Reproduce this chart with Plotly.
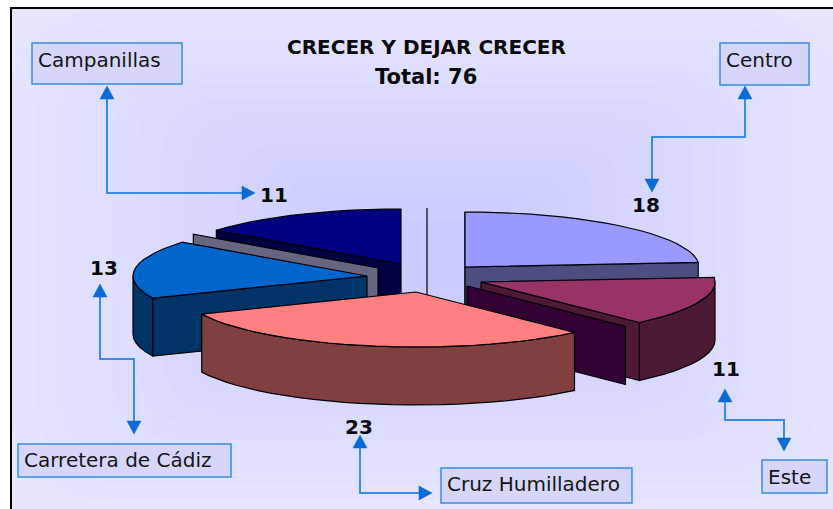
import math
import plotly.graph_objects as go

# ---- data ----
categories = ["Centro", "Este", "", "Cruz Humilladero", "Carretera de Cádiz", "", "Campanillas", ""]
values = [18, 11, 0, 23, 13, 0, 11, 0]
title_lines = ["CRECER Y DEJAR CRECER", "Total: 76"]

# ---- style ----
top_colors = ["#9999FF", "#993366", "#660066", "#FF8080", "#0066CC", "#CCCCFF", "#000080", "#CCCCFF"]
wall_colors = ["#4D4D80", "#4D1A33", "#330033", "#804040", "#003366", "#666680", "#000040", "#666680"]
apex_x = [465, 481, 467, 416, 367, 378, 401, 427]
apex_y = [267, 282, 286, 292, 276, 268, 264, 263]
draw_order = [6, 7, 0, 5, 4, 1, 2, 3]
RX, RY, DEPTH = 234, 55, 58
EDGE = "#000008"
ARROW = "#0A6AD6"
LINE = "#3A8CE4"

label_pos = [(646, 207), (726, 371), None, (359, 429), (104, 270), None, (274, 197), None]
# x0, y0, x1, y1, text x, text y
box_pos = {
    "Centro": (720, 43, 809, 85, 725, 60),
    "Este": (762, 460, 827, 493, 767, 477),
    "Cruz Humilladero": (441, 468, 632, 503, 446, 484),
    "Carretera de Cádiz": (18, 444, 231, 477, 23, 460),
    "Campanillas": (32, 43, 182, 84, 37, 60),
}
connectors = [
    [(107, 97), (107, 193), (242, 193)],
    [(745, 97), (745, 137), (652, 137), (652, 179)],
    [(100, 295), (100, 359), (134, 359), (134, 421)],
    [(360, 447), (360, 493), (419, 493)],
    [(725, 401), (725, 420), (784, 420), (784, 438)],
]
# tip x, tip y, direction x, direction y
arrow_tips = [
    (107, 86, 0, -1), (255, 193, 1, 0),
    (745, 86, 0, -1), (652, 192, 0, 1),
    (100, 284, 0, -1), (134, 434, 0, 1),
    (360, 435, 0, -1), (432, 493, 1, 0),
    (725, 389, 0, -1), (784, 451, 0, 1),
]
ARROW_LEN, ARROW_HALF = 13, 7


def pt(cx, cy, a, z=0):
    return cx + RX * math.sin(a), cy - RY * math.cos(a) + z


def arc(cx, cy, a0, a1, z=0, step=math.radians(4)):
    n = max(1, int(abs(a1 - a0) / step))
    return [pt(cx, cy, a0 + (a1 - a0) * i / n, z) for i in range(n + 1)]


fig = go.Figure()


def poly(points, fill, edge=EDGE, width=1.2):
    xs = [p[0] for p in points] + [points[0][0]]
    ys = [p[1] for p in points] + [points[0][1]]
    fig.add_trace(go.Scatter(x=xs, y=ys, mode="lines", fill="toself", fillcolor=fill,
                             line=dict(color=edge, width=width), hoverinfo="skip", showlegend=False))


total = sum(values)
starts = []
acc = 0
for v in values:
    starts.append(acc)
    acc += v

for i in draw_order:
    a0 = 2 * math.pi * starts[i] / total
    a1 = 2 * math.pi * (starts[i] + values[i]) / total
    cx, cy = apex_x[i], apex_y[i]
    wall = wall_colors[i]
    if values[i] == 0:
        p = pt(cx, cy, a0)
        poly([(cx, cy), p, (p[0], p[1] + DEPTH), (cx, cy + DEPTH)], wall)
        continue
    # radial walls facing the viewer
    if math.sin(a0) < 1e-9:
        p = pt(cx, cy, a0)
        poly([(cx, cy), p, (p[0], p[1] + DEPTH), (cx, cy + DEPTH)], wall)
    if math.sin(a1) > 1e-9:
        p = pt(cx, cy, a1)
        poly([(cx, cy), p, (p[0], p[1] + DEPTH), (cx, cy + DEPTH)], wall)
    # outer wall (front half only)
    lo, hi = max(a0, math.pi / 2), min(a1, 3 * math.pi / 2)
    if hi > lo:
        poly(arc(cx, cy, lo, hi) + arc(cx, cy, hi, lo, DEPTH), wall)
    # top face
    poly([(cx, cy)] + arc(cx, cy, a0, a1), top_colors[i])

# connectors
for c in connectors:
    fig.add_trace(go.Scatter(x=[p[0] for p in c], y=[p[1] for p in c], mode="lines",
                             line=dict(color=LINE, width=2), hoverinfo="skip", showlegend=False))
for tx, ty, dx, dy in arrow_tips:
    bx, by = tx - dx * ARROW_LEN, ty - dy * ARROW_LEN
    poly([(tx, ty), (bx + dy * ARROW_HALF, by + dx * ARROW_HALF),
          (bx - dy * ARROW_HALF, by - dx * ARROW_HALF)], ARROW, edge=ARROW, width=0.5)

# value labels
idx = [i for i, v in enumerate(values) if v > 0]
fig.add_trace(go.Scatter(x=[label_pos[i][0] for i in idx], y=[label_pos[i][1] for i in idx],
                         mode="text", text=[str(values[i]) for i in idx], textposition="middle center",
                         textfont=dict(family="DejaVu Sans", size=20, color="#0A0A0A", weight="bold"),
                         hoverinfo="skip", showlegend=False))

shapes = []
# background steps
C0, C1 = (0xE6, 0xE6, 0xFF), (0xC9, 0xC9, 0xFF)
shapes.append(dict(type="rect", x0=0, x1=833, y0=0, y1=509, fillcolor="white", line_width=0, layer="below"))
shapes.append(dict(type="rect", x0=10, x1=833, y0=7, y1=509, fillcolor="#000000", line_width=0, layer="below"))
shapes.append(dict(type="rect", x0=12, x1=833, y0=9, y1=509, fillcolor="#E6E6FF", line_width=0, layer="below"))
N = 16
for s in range(1, N):
    f = s / N
    col = "rgb(%d,%d,%d)" % tuple(round(C0[k] + (C1[k] - C0[k]) * f) for k in range(3))
    hw, hh = 400 * (1 - f) + 40, 240 * (1 - f) + 20
    x0, x1, y0, y1 = 427 - hw, 427 + hw, 255 - hh, 255 + hh
    r = min(hw, hh) * 0.4
    path = (f"M {x0 + r} {y0} L {x1 - r} {y0} Q {x1} {y0} {x1} {y0 + r} L {x1} {y1 - r} "
            f"Q {x1} {y1} {x1 - r} {y1} L {x0 + r} {y1} Q {x0} {y1} {x0} {y1 - r} "
            f"L {x0} {y0 + r} Q {x0} {y0} {x0 + r} {y0} Z")
    shapes.append(dict(type="path", path=path, fillcolor=col, line_width=0, layer="below"))

annotations = [
    dict(x=426, y=47, text=title_lines[0], font=dict(family="DejaVu Sans", size=20, color="#0A0A0A", weight="bold")),
    dict(x=426, y=77, text=title_lines[1], font=dict(family="DejaVu Sans", size=21, color="#0A0A0A", weight="bold")),
]
for name, (x0, y0, x1, y1, tx, ty) in box_pos.items():
    shapes.append(dict(type="rect", x0=x0, x1=x1, y0=y0, y1=y1, fillcolor="#D6D6FA",
                       line=dict(color=LINE, width=1.5), layer="above"))
    annotations.append(dict(x=tx, y=ty, text=name, xanchor="left",
                            font=dict(family="DejaVu Sans", size=20, color="#151515")))
for a in annotations:
    a.update(xref="x", yref="y", showarrow=False)
    a.setdefault("xanchor", "center")
    a["yanchor"] = "middle"
    a["borderpad"] = 0

fig.update_layout(
    width=833, height=509, margin=dict(l=0, r=0, t=0, b=0), showlegend=False,
    paper_bgcolor="white", plot_bgcolor="rgba(0,0,0,0)",
    xaxis=dict(range=[0, 833], visible=False, fixedrange=True),
    yaxis=dict(range=[509, 0], visible=False, fixedrange=True),
    shapes=shapes, annotations=annotations,
)
fig.write_html("out.html", post_script="document.body.style.margin='0';document.body.style.overflow='hidden';",
               config={"displayModeBar": False})
